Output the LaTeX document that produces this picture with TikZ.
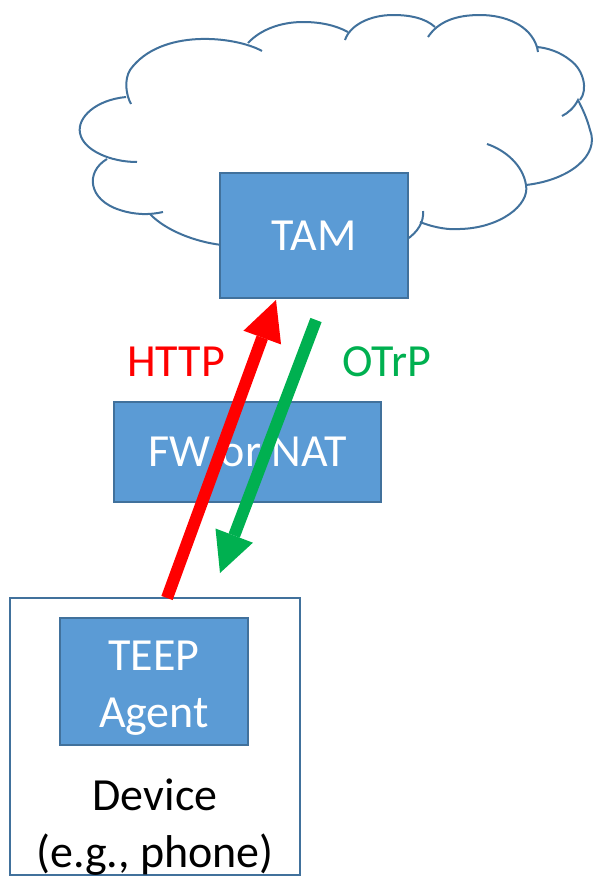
\documentclass[tikz,border=0pt]{standalone}
\usepackage{fontspec}
\setmainfont{Carlito}
\usetikzlibrary{arrows.meta}
\definecolor{boxfill}{HTML}{5B9BD5}
\definecolor{boxline}{HTML}{41719C}
\definecolor{httpred}{HTML}{FF0000}
\definecolor{otrpgreen}{HTML}{00B050}
\tikzset{
  bluebox/.style={draw=boxline, fill=boxfill, line width=2pt, text=white, font=\fontsize{46}{57}\selectfont, inner sep=0pt},
  cloudline/.style={draw=boxline, line width=2pt},
  devbox/.style={draw=boxline, line width=1.5pt, fill=white, inner sep=0pt},
  bigarrow/.style={line width=12pt, -{Triangle[length=40pt,width=40pt,line width=0pt]}},
  lbl/.style={font=\fontsize{46}{57}\selectfont, inner sep=0pt, anchor=base},
}
\begin{document}
\begin{tikzpicture}[x=1pt,y=-1pt]
\useasboundingbox (0,0) rectangle (595,876);
% cloud
\draw[cloudline] (262,51) .. controls (235,36) and (160,28) .. (130,70) .. controls (124,80) and (126,95) .. (131,104);
\draw[cloudline] (126,97) .. controls (95,100) and (77,118) .. (80,133) .. controls (83,150) and (110,162) .. (137,162);
\draw[cloudline] (107,159) .. controls (85,172) and (88,200) .. (120,210) .. controls (135,215) and (150,215) .. (163,212);
\draw[cloudline] (150,214) .. controls (165,230) and (195,242) .. (222,245);
\draw[cloudline] (406,240) .. controls (418,232) and (424,222) .. (423,211);
\draw[cloudline] (420,222) .. controls (435,228) and (450,230) .. (460,229) .. controls (500,228) and (530,205) .. (526,185) .. controls (523,165) and (505,150) .. (487,144);
\draw[cloudline] (526,185) .. controls (570,180) and (600,155) .. (590,130) .. controls (587,118) and (582,108) .. (578,100) .. controls (574,108) and (568,113) .. (562,116);
\draw[cloudline] (580,100) .. controls (588,90) and (584,70) .. (570,60) .. controls (560,52) and (548,48) .. (537,47) -- (538,52);
\draw[cloudline] (537,47) .. controls (530,25) and (505,15) .. (480,15) .. controls (455,15) and (438,22) .. (428,37);
\draw[cloudline] (435,27) .. controls (425,18) and (410,15) .. (393,15) .. controls (370,15) and (350,25) .. (345,40);
\draw[cloudline] (348,32) .. controls (335,25) and (320,22) .. (303,22) .. controls (280,22) and (260,30) .. (248,43);
% boxes
\node[bluebox, minimum width=188pt, minimum height=125pt] (tam) at (314,235.5) {TAM};
\node[bluebox, minimum width=267pt, minimum height=100pt] (fw) at (247.5,452) {FW or NAT};
\node[devbox, minimum width=290pt, minimum height=277pt] (dev) at (155,736.5) {};
\node[bluebox, minimum width=188pt, minimum height=127pt] (teep) at (154,681.5) {};
\node[lbl, text=white, align=center] (teeptext) at (154,727) {TEEP\\Agent};
\node[lbl, align=center] (devtext) at (155,867) {Device\\(e.g., phone)};
% labels
\node[lbl, text=httpred] (http) at (176,376) {HTTP};
\node[lbl, text=otrpgreen] (otrp) at (387,376) {OTrP};
% arrows
\coordinate (redstart) at (167,598);
\coordinate (redend) at (276,300);
\coordinate (greenstart) at (316,320);
\coordinate (greenend) at (220,573);
\draw[bigarrow, draw=httpred, fill=httpred] (redstart) -- (redend);
\draw[bigarrow, draw=otrpgreen, fill=otrpgreen] (greenstart) -- (greenend);
\end{tikzpicture}
\end{document}
